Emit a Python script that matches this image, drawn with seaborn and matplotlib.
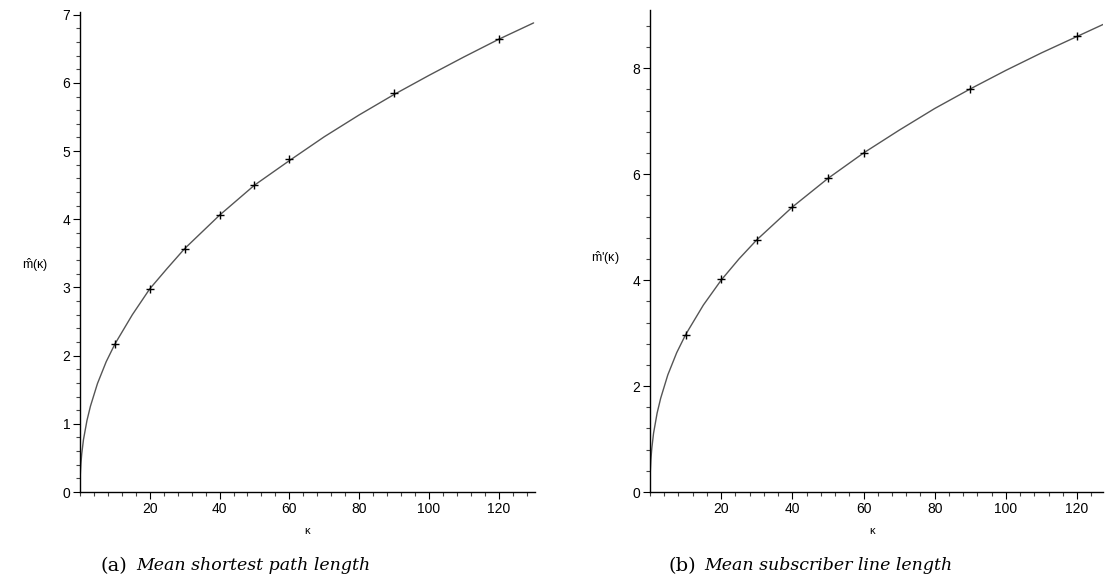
import matplotlib
matplotlib.use("Agg")
import matplotlib.pyplot as plt
from matplotlib.ticker import MultipleLocator
import numpy as np
import pandas as pd
import seaborn as sns

# ---- data ----
kappa_pts = [10, 20, 30, 40, 50, 60, 90, 120]
m_pts = [2.17, 2.98, 3.57, 4.06, 4.50, 4.88, 5.85, 6.65]
mp_pts = [2.97, 4.03, 4.76, 5.38, 5.92, 6.40, 7.60, 8.60]

kappa_curve = [0, 0.05, 0.1, 0.25, 0.5, 1, 2, 3, 5, 7.5, 10, 15, 20, 25, 30, 40,
               50, 60, 70, 80, 90, 100, 110, 120, 130]
m_curve = [0.0, 0.20, 0.27, 0.41, 0.56, 0.77, 1.05, 1.26, 1.59, 1.91, 2.17, 2.60,
           2.98, 3.28, 3.57, 4.06, 4.50, 4.86, 5.21, 5.53, 5.83, 6.11, 6.38, 6.64, 6.88]
mp_curve = [0.0, 0.31, 0.41, 0.61, 0.82, 1.11, 1.49, 1.77, 2.21, 2.63, 2.97, 3.53,
            4.00, 4.40, 4.76, 5.38, 5.92, 6.40, 6.83, 7.24, 7.61, 7.96, 8.29, 8.60, 8.91]

ylabels = [r"$\hat{\mathrm{m}}$(κ)", r"$\hat{\mathrm{m}}$'(κ)"]
captions = [("(a)", "Mean shortest path length"), ("(b)", "Mean subscriber line length")]

sns.set_style("white")
plt.rcParams["font.family"] = ["Liberation Sans", "DejaVu Sans"]
plt.rcParams["mathtext.fontset"] = "custom"
plt.rcParams["mathtext.rm"] = "Liberation Sans"
plt.rcParams["text.color"] = "black"
plt.rcParams["xtick.color"] = "black"
plt.rcParams["ytick.color"] = "black"

W, H = 1105, 583
fig = plt.figure(figsize=(W / 100, H / 100), dpi=100)

def frac_box(x0, y_top, x1, y_bot):
    return [x0 / W, 1 - y_bot / H, (x1 - x0) / W, (y_bot - y_top) / H]

ax1 = fig.add_axes(frac_box(80, 12, 535, 492))
ax2 = fig.add_axes(frac_box(650, 10, 1103, 492))

configs = [
    (ax1, m_curve, m_pts, (0, 130.4), (0, 7.04), 1, 0.2),
    (ax2, mp_curve, mp_pts, (0, 127.3), (0, 9.1), 2, 0.4),
]

for ax, curve, pts, xl, yl, ymaj, ymin in configs:
    sns.lineplot(x=kappa_curve, y=curve, ax=ax, color="#555555", linewidth=1.0)
    sns.scatterplot(x=kappa_pts, y=pts, ax=ax, marker="+", color="black",
                    s=30, linewidth=1.0, zorder=5)
    ax.set_xlim(*xl)
    ax.set_ylim(*yl)
    for s in ["top", "right"]:
        ax.spines[s].set_visible(False)
    for s in ["left", "bottom"]:
        ax.spines[s].set_color("black")
        ax.spines[s].set_linewidth(1.0)
    ax.xaxis.set_major_locator(MultipleLocator(20))
    ax.xaxis.set_minor_locator(MultipleLocator(4))
    ax.yaxis.set_major_locator(MultipleLocator(ymaj))
    ax.yaxis.set_minor_locator(MultipleLocator(ymin))
    ax.tick_params(axis="both", which="major", direction="out", length=5,
                   width=0.8, labelsize=10, color="black", labelcolor="black",
                   pad=2, bottom=True, left=True)
    ax.tick_params(axis="both", which="minor", direction="out", length=3,
                   width=0.8, color="#444444", bottom=True, left=True)
    xt = [t for t in ax.get_xticks() if 0 < t <= xl[1]]
    ax.set_xticks(xt)
    ax.set_xlabel("")
    ax.set_ylabel("")
    ax.set_facecolor("white")

# axis labels
fig.text(35 / W, 1 - 265 / H, ylabels[0], fontsize=9, ha="center", va="center")
fig.text(605 / W, 1 - 258 / H, ylabels[1], fontsize=9, ha="center", va="center")
fig.text(307 / W, 1 - 531 / H, "κ", fontsize=8, ha="center", va="center")
fig.text(872 / W, 1 - 531 / H, "κ", fontsize=8, ha="center", va="center")

# captions
for (tag, txt), x0 in zip(captions, [100, 668]):
    fig.text(x0 / W, 1 - 566 / H, tag, fontsize=14, family="DejaVu Serif",
             ha="left", va="center")
    fig.text((x0 + 36) / W, 1 - 566 / H, txt, fontsize=12.5, family="DejaVu Serif",
             style="italic", ha="left", va="center")

fig.savefig("out.png", dpi=100)
